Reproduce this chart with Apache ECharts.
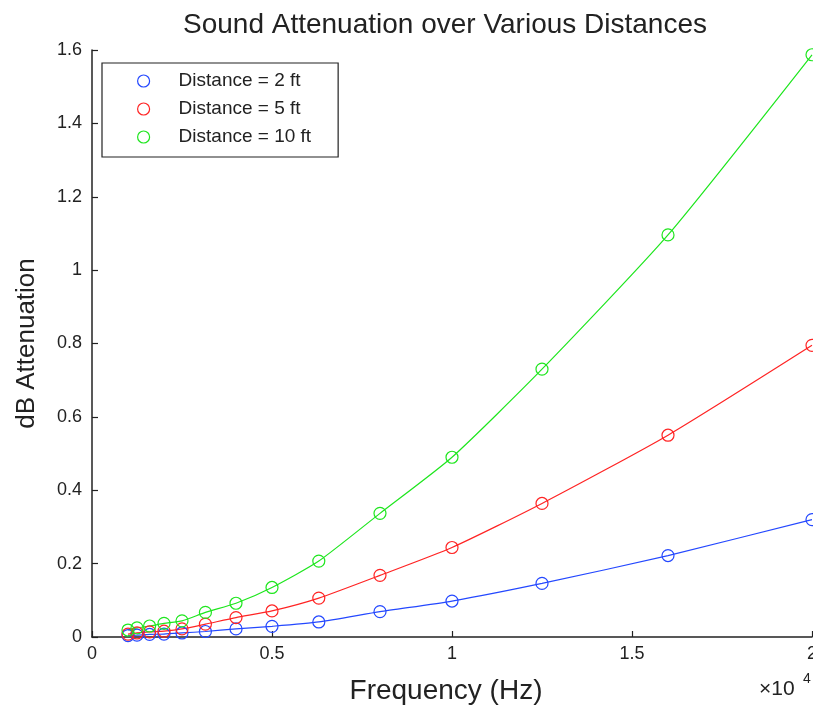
<!DOCTYPE html>
<html>
<head>
<meta charset="utf-8">
<script src="https://cdn.jsdelivr.net/npm/echarts@6/dist/echarts.min.js"></script>
<style>
  html, body { margin: 0; padding: 0; background: #fff; }
  #chart { width: 813px; height: 706px; }
</style>
</head>
<body>
<div id="chart"></div>
<script>
// One-third-octave band centre frequencies (Hz)
const frequencies = [1000, 1250, 1600, 2000, 2500, 3150, 4000, 5000, 6300, 8000, 10000, 12500, 16000, 20000];

// Attenuation (dB) at each frequency for the three distances
const atten2ft  = [0.004, 0.005, 0.007, 0.008, 0.011, 0.015, 0.022, 0.029, 0.041, 0.069, 0.098, 0.146, 0.222, 0.320];
const atten5ft  = [0.008, 0.011, 0.014, 0.016, 0.022, 0.035, 0.053, 0.071, 0.106, 0.168, 0.244, 0.364, 0.550, 0.795];
const atten10ft = [0.019, 0.025, 0.030, 0.037, 0.044, 0.067, 0.092, 0.135, 0.207, 0.337, 0.490, 0.730, 1.096, 1.587];

const seriesNames = ['Distance = 2 ft', 'Distance = 5 ft', 'Distance = 10 ft'];
const seriesColors = ['#2448ff', '#ff2424', '#1ee61e'];
const seriesValues = [atten2ft, atten5ft, atten10ft];

const FONT = '"Liberation Sans", Arial, Helvetica, sans-serif';
const INK = '#222';

const chart = echarts.init(document.getElementById('chart'), null, { renderer: 'canvas' });

const series = seriesNames.map((name, i) => ({
  name: name,
  type: 'line',
  data: frequencies.map((f, k) => [f, seriesValues[i][k]]),
  smooth: 0.2,
  symbol: 'circle',
  symbolSize: 12,
  showAllSymbol: true,
  lineStyle: { color: seriesColors[i], width: 1.2 },
  itemStyle: { color: 'rgba(0,0,0,0)', borderColor: seriesColors[i], borderWidth: 1.2 },
  emphasis: { disabled: true },
  animation: false
}));

chart.setOption({
  backgroundColor: '#fff',
  animation: false,
  grid: { left: 92, right: 1, top: 50, bottom: 69, outerBoundsMode: 'none', containLabel: false },
  xAxis: {
    type: 'value',
    min: 0,
    max: 20000,
    interval: 5000,
    name: 'Frequency (Hz)',
    nameLocation: 'middle',
    nameGap: 40,
    nameTextStyle: { fontFamily: FONT, fontSize: 28, color: INK, padding: [0, 12, 0, 0] },
    axisLine: { lineStyle: { color: INK, width: 1.5 } },
    axisTick: { inside: true, length: 6, lineStyle: { color: INK, width: 1.2 } },
    axisLabel: {
      margin: 8,
      fontFamily: FONT, fontSize: 18, color: INK,
      formatter: v => String(v / 10000)
    },
    splitLine: { show: false }
  },
  yAxis: {
    type: 'value',
    min: 0,
    max: 1.6,
    interval: 0.2,
    name: 'dB Attenuation',
    nameLocation: 'middle',
    nameGap: 52,
    nameTextStyle: { fontFamily: FONT, fontSize: 26, color: INK },
    axisLine: { show: true, lineStyle: { color: INK, width: 1.5 } },
    axisTick: { show: true, inside: true, length: 6, lineStyle: { color: INK, width: 1.2 } },
    axisLabel: { margin: 10, fontFamily: FONT, fontSize: 18, color: INK },
    splitLine: { show: false }
  },
  legend: {
    orient: 'vertical',
    left: 102,
    top: 63,
    padding: [8, 27, 10, 35],
    itemWidth: 60,
    itemHeight: 12,
    itemGap: 8,
    borderColor: INK,
    borderWidth: 1.2,
    backgroundColor: '#fff',
    selectedMode: false,
    textStyle: { fontFamily: FONT, fontSize: 19, color: INK, lineHeight: 20 },
    data: seriesNames.map((name, i) => ({
      name: name,
      icon: 'circle',
      itemStyle: { color: 'rgba(0,0,0,0)', borderColor: seriesColors[i], borderWidth: 1.2 }
    }))
  },
  graphic: [
    {
      type: 'text',
      x: 445, y: 25,
      style: {
        text: 'Sound Attenuation over Various Distances',
        fontFamily: FONT, fontSize: 28, fill: INK,
        textAlign: 'center', textVerticalAlign: 'middle'
      }
    },
    {
      type: 'text',
      x: 759, y: 689,
      style: {
        text: '×10',
        fontFamily: FONT, fontSize: 21, fill: INK,
        textAlign: 'left', textVerticalAlign: 'middle'
      }
    },
    {
      type: 'text',
      x: 803, y: 679,
      style: {
        text: '4',
        fontFamily: FONT, fontSize: 14, fill: INK,
        textAlign: 'left', textVerticalAlign: 'middle'
      }
    }
  ],
  series: series
});
</script>
</body>
</html>
